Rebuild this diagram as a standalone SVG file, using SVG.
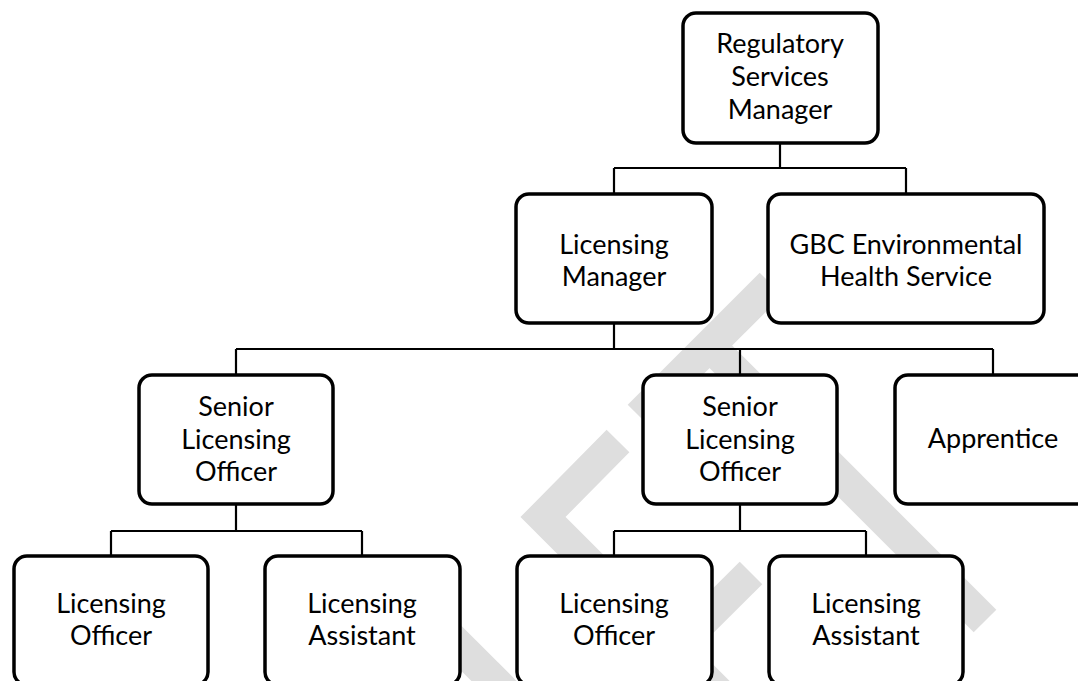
<svg xmlns="http://www.w3.org/2000/svg" width="1078" height="681" viewBox="0 0 1078 681">
<style>
.wm{fill:none;stroke:#dedede;stroke-width:32;stroke-linejoin:miter}
.box{fill:#fff;stroke:#000;stroke-width:3.5}
.conn{fill:none;stroke:#000;stroke-width:2.2}
text{font-family:Lato,"Liberation Sans",sans-serif;font-size:27px;fill:#000;text-anchor:middle}
</style>
<rect width="1078" height="681" fill="#fff"/>
<g id="watermark">
<path class="wm" d="M771,284 L639,416"/>
<path class="wm" d="M710,346 L985,621"/>
<path class="wm" d="M618,441 L543,517 L760,734"/>
<path class="wm" d="M751,573 L600,723"/>
<path class="wm" d="M430,617 L560,747"/>
</g>
<g id="connectors">
<path class="conn" d="M780,143 V168 M614,168 H906 M614,168 V194 M906,168 V194"/>
<path class="conn" d="M614,323 V349 M236,349 H993 M236,349 V375 M740,349 V375 M993,349 V375"/>
<path class="conn" d="M236,504 V531 M111,531 H362 M111,531 V556 M362,531 V556"/>
<path class="conn" d="M740,504 V531 M614,531 H866 M614,531 V556 M866,531 V556"/>
</g>
<g id="n-rsm">
<rect class="box" x="683" y="13" width="195" height="130" rx="13"/>
<text x="780" y="53">Regulatory</text>
<text x="780" y="86">Services</text>
<text x="780" y="119">Manager</text>
</g>
<g id="n-lm">
<rect class="box" x="516" y="194" width="196" height="129" rx="13"/>
<text x="614" y="254">Licensing</text>
<text x="614" y="286">Manager</text>
</g>
<g id="n-gbc">
<rect class="box" x="768" y="194" width="276" height="129" rx="13"/>
<text x="906" y="254">GBC Environmental</text>
<text x="906" y="286">Health Service</text>
</g>
<g id="n-slo1">
<rect class="box" x="139" y="375" width="194" height="129" rx="13"/>
<text x="236" y="416">Senior</text>
<text x="236" y="449">Licensing</text>
<text x="236" y="481">Officer</text>
</g>
<g id="n-slo2">
<rect class="box" x="643" y="375" width="194" height="129" rx="13"/>
<text x="740" y="416">Senior</text>
<text x="740" y="449">Licensing</text>
<text x="740" y="481">Officer</text>
</g>
<g id="n-app">
<rect class="box" x="895" y="375" width="196" height="129" rx="13"/>
<text x="993" y="448">Apprentice</text>
</g>
<g id="n-lo1">
<rect class="box" x="14" y="556" width="194" height="129" rx="13"/>
<text x="111" y="613">Licensing</text>
<text x="111" y="645">Officer</text>
</g>
<g id="n-la1">
<rect class="box" x="265" y="556" width="195" height="129" rx="13"/>
<text x="362" y="613">Licensing</text>
<text x="362" y="645">Assistant</text>
</g>
<g id="n-lo2">
<rect class="box" x="517" y="556" width="195" height="129" rx="13"/>
<text x="614" y="613">Licensing</text>
<text x="614" y="645">Officer</text>
</g>
<g id="n-la2">
<rect class="box" x="769" y="556" width="194" height="129" rx="13"/>
<text x="866" y="613">Licensing</text>
<text x="866" y="645">Assistant</text>
</g>
</svg>
